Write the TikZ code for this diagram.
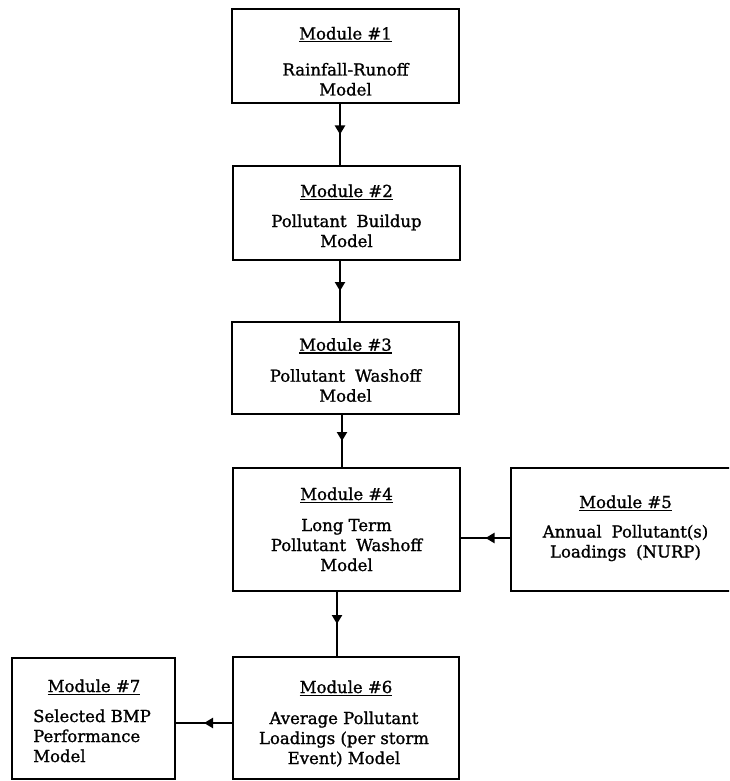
\documentclass[tikz,border=0pt]{standalone}
\usepackage{fontspec}
\setmainfont{DejaVu Serif}[FakeBold=1.2]
\usetikzlibrary{arrows.meta,decorations.markings}
\newcommand\modtitle[1]{\setbox0\hbox{#1}\rlap{\raisebox{-2.8pt}{\rule{\wd0}{1.2pt}}}\box0}
\tikzset{
  box/.style={draw, line width=2.2pt, inner sep=0pt, outer sep=0pt},
  ttl/.style={inner sep=0pt, font=\fontsize{16.5}{20}\selectfont, anchor=base},
  bodytxt/.style={inner sep=0pt, font=\fontsize{16.5}{20}\selectfont, anchor=base, align=center},
  flow/.style={line width=2.6pt, postaction={decorate},
    decoration={markings, mark=at position 0.5 with {\arrow{Triangle[width=10pt,length=9pt]}}}}
}
\begin{document}
\begin{tikzpicture}[x=1pt,y=-1pt]
\useasboundingbox (0,0) rectangle (729,781);
\clip (0,0) rectangle (729,781);
% boxes
\node[box, minimum width=227pt, minimum height=94pt] (b1) at (345.5,56) {};
\node[box, minimum width=227pt, minimum height=94pt] (b2) at (346.5,213) {};
\node[box, minimum width=227pt, minimum height=92pt] (b3) at (345.5,368) {};
\node[box, minimum width=227pt, minimum height=123pt] (b4) at (346.5,529.5) {};
\node[box, minimum width=230pt, minimum height=123pt] (b5) at (626,529.5) {};
\node[box, minimum width=226pt, minimum height=122pt] (b6) at (346,718) {};
\node[box, minimum width=163pt, minimum height=121pt] (b7) at (93.5,718.5) {};
% texts (body nodes anchored at the baseline of their last line)
\node[ttl] (t1) at (345.5,39.5) {\modtitle{Module \#1}};
\node[bodytxt] (u1) at (345.5,95.5) {Rainfall-Runoff\\Model};
\node[ttl] (t2) at (346.5,197) {\modtitle{Module \#2}};
\node[bodytxt] (u2) at (346.5,247) {Pollutant\hspace{0.6em}Buildup\\Model};
\node[ttl] (t3) at (345.5,350.7) {\modtitle{Module \#3}};
\node[bodytxt] (u3) at (345.5,401.7) {Pollutant\hspace{0.6em}Washoff\\Model};
\node[ttl] (t4) at (346.5,500) {\modtitle{Module \#4}};
\node[bodytxt] (u4) at (346.5,571) {Long Term\\Pollutant\hspace{0.6em}Washoff\\Model};
\node[ttl] (t5) at (625.5,508) {\modtitle{Module \#5}};
\node[bodytxt] (u5) at (625.5,557.5) {Annual\hspace{0.6em}Pollutant(s)\\Loadings\hspace{0.6em}(NURP)};
\node[ttl] (t6) at (346,693) {\modtitle{Module \#6}};
\node[bodytxt] (u6) at (344,764) {Average Pollutant\\Loadings (per storm\\Event) Model};
\node[ttl] (t7) at (94,692) {\modtitle{Module \#7}};
\node[bodytxt, align=left, anchor=base west] (u7) at (33,762) {Selected BMP\\Performance\\Model};
% connector guide coordinates
\coordinate (ax1) at (340,0);
\coordinate (ax2) at (340,0);
\coordinate (ax3) at (342,0);
\coordinate (ax4) at (337,0);
\coordinate (ay5) at (0,538);
\coordinate (ay6) at (0,723);
% connectors
\draw[flow] (b1.south -| ax1) -- (b2.north -| ax1);
\draw[flow] (b2.south -| ax2) -- (b3.north -| ax2);
\draw[flow] (b3.south -| ax3) -- (b4.north -| ax3);
\draw[flow] (b4.south -| ax4) -- (b6.north -| ax4);
\draw[flow] (b5.west |- ay5) -- (b4.east |- ay5);
\draw[flow] (b6.west |- ay6) -- (b7.east |- ay6);
\end{tikzpicture}
\end{document}
